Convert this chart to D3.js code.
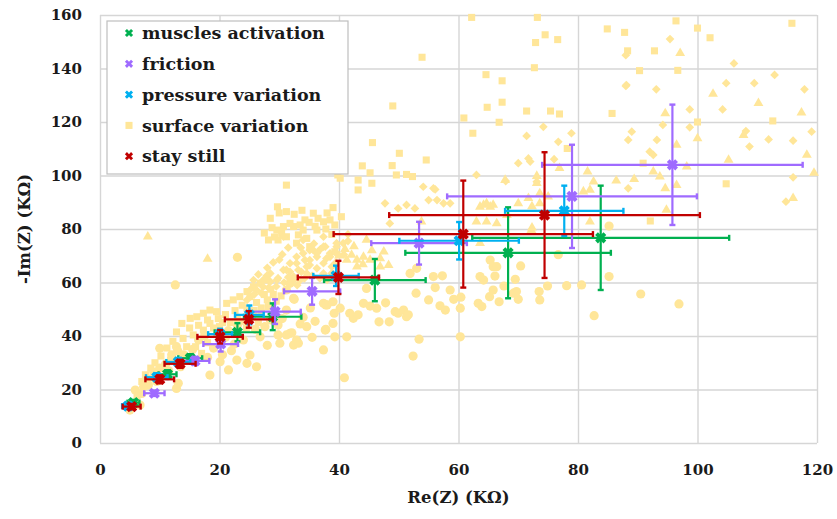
<!DOCTYPE html>
<html>
<head>
<meta charset="utf-8">
<script src="https://cdn.jsdelivr.net/npm/d3@7"></script>
<style>
body { margin: 0; background: #fff; }
text { font-family: "DejaVu Serif", serif; font-weight: bold; fill: #1a1a1a; }
</style>
</head>
<body>
<svg width="837" height="519"></svg>
<script>
// x ticks / y ticks
var xTicks = [0, 20, 40, 60, 80, 100, 120];
var yTicks = [0, 20, 40, 60, 80, 100, 120, 140, 160];

// muscles activation
var musclesRe    = [5.6, 11.3, 15.1, 23.0, 28.9, 46.0, 68.3, 83.8];
var musclesIm    = [15.1, 25.7, 31.7, 41.4, 47.2, 60.9, 71.1, 76.7];
var musclesReErr = [1.0, 1.5, 2.0, 3.8, 4.8, 8.5, 17.2, 21.5];
var musclesImErr = [1.0, 1.5, 1.5, 3.4, 5.0, 7.9, 17.0, 19.5];

// friction
var frictionRe    = [9.1, 15.9, 20.2, 29.3, 35.5, 53.4, 79.0, 95.8];
var frictionIm    = [18.6, 30.7, 37.0, 49.1, 56.7, 74.7, 92.2, 104.0];
var frictionReErr = [1.7, 2.4, 2.9, 4.3, 4.7, 8.0, 20.9, 21.8];
var frictionImErr = [1.0, 1.5, 2.8, 4.6, 5.0, 8.0, 19.3, 22.5];

// pressure variation
var pressureRe    = [4.7, 9.5, 13.1, 20.1, 25.0, 39.5, 60.1, 77.7];
var pressureIm    = [13.8, 24.6, 30.3, 40.7, 47.9, 62.5, 75.6, 86.8];
var pressureReErr = [1.0, 1.8, 2.0, 2.0, 2.4, 3.8, 10.0, 9.9];
var pressureImErr = [1.0, 1.5, 1.5, 2.0, 3.5, 3.8, 7.0, 9.4];

// stay still
var stillRe    = [5.3, 10.0, 13.4, 20.1, 24.9, 39.9, 60.8, 74.4];
var stillIm    = [13.6, 23.8, 29.6, 39.7, 46.2, 61.9, 78.1, 85.2];
var stillReErr = [1.5, 2.4, 2.6, 3.8, 4.0, 6.8, 21.7, 26.0];
var stillImErr = [1.0, 1.5, 1.5, 2.5, 3.1, 6.2, 20.0, 23.5];

// surface variation, one list per marker shape
var surfaceCircles = [
  [5.0,12.3],[5.9,19.8],[6.7,14.2],[7.3,21.0],[8.1,21.7],[10.0,35.4],[12.6,59.1],[12.8,20.4],[13.1,22.3],[12.8,36.0],
  [18.4,25.4],[20.1,30.4],[21.5,27.3],[22.9,31.0],[24.6,29.8],[26.2,28.5],[25.1,32.9],[23.0,69.4],[26.8,39.7],[27.6,43.5],
  [29.8,44.1],[29.8,40.4],[30.1,37.3],[31.2,40.4],[31.8,41.0],[32.1,41.2],[32.4,36.6],[33.2,37.3],[32.9,38.5],[34.6,43.5],
  [32.5,53.7],[32.4,54.1],[31.2,57.2],[31.8,59.7],[31.2,49.7],[37.4,52.2],[37.8,51.6],[39.2,48.5],[37.7,42.2],[39.0,44.7],
  [39.3,39.7],[41.3,39.7],[37.4,34.8],[37.8,42.5],[38.0,51.6],[39.0,52.8],[40.2,50.4],[41.8,48.5],[42.4,46.6],[43.2,47.9],
  [44.1,52.2],[44.6,57.8],[45.2,51.2],[46.3,50.4],[47.8,52.4],[46.7,45.3],[48.4,45.3],[49.4,49.1],[49.9,48.5],[50.8,49.7],
  [51.3,47.2],[51.6,47.9],[51.9,63.4],[52.9,56.0],[53.0,65.3],[55.0,53.5],[55.8,62.2],[56.1,58.1],[56.9,51.3],[57.3,62.5],
  [57.8,49.7],[58.6,57.2],[59.2,53.7],[60.3,50.4],[60.4,54.5],[60.3,39.7],[53.4,38.8],[52.4,32.5],[40.9,24.4],[63.3,52.2],
  [63.9,51.0],[64.2,60.9],[63.6,62.2],[65.3,68.4],[65.8,65.9],[65.2,54.7],[65.8,57.2],[66.1,62.4],[66.4,65.9],[66.8,52.8],
  [67.6,58.7],[69.5,61.2],[69.2,56.0],[69.7,56.6],[70.0,53.7],[70.4,66.2],[73.5,56.6],[73.6,53.5],[74.9,58.7],[76.7,70.4],
  [78.1,58.8],[80.6,59.1],[82.7,47.6],[85.2,62.2],[85.2,81.1],[90.5,55.7],[96.9,52.0],[20.5,33.0],[22.0,34.5],[28.0,36.5],
  [35.5,39.5],[36.0,45.5],[34.0,47.0],[35.2,50.5],[33.5,44.5],[30.5,46.5],[28.5,46.0],
  [8.0,24.0],[9.0,26.5],[10.0,28.0],[11.0,29.5],[12.0,33.0],[13.0,34.5],[14.0,33.0],[15.5,35.0],[16.5,38.5],[17.5,40.0],
  [21.5,42.0],[23.0,44.0],[24.0,38.5],[22.5,37.0],[26.0,42.5],[18.0,32.0],[15.0,31.5],[13.5,28.5],[11.5,27.0],[9.5,23.0],
  [7.0,18.5],[19.0,35.5],[21.0,39.5]
];
var surfaceSquares = [
  [62.2,159.1],[73.2,159.1],[74.5,152.6],[72.9,149.7],[76.6,150.8],[72.7,140.3],[64.6,137.7],[67.3,135.4],[53.9,144.2],[49.0,126.0],
  [64.8,125.5],[67.3,127.4],[71.4,124.1],[75.4,124.1],[76.9,123.0],[60.9,121.5],[66.8,119.9],[62.4,115.8],[45.6,112.3],[50.1,108.3],
  [54.6,105.8],[48.9,103.7],[43.9,103.6],[45.2,101.0],[49.6,100.2],[51.3,100.4],[52.3,99.6],[43.2,98.3],[43.2,94.6],[45.5,97.1],
  [39.8,100.2],[84.9,154.8],[87.8,153.5],[88.3,146.6],[90.3,139.2],[85.7,123.2],[78.2,110.1],[96.4,157.8],[100.0,155.1],[102.1,151.5],
  [115.8,156.9],[92.8,146.6],[96.7,139.3],[100.0,120.0],[112.6,120.4],[90.9,104.6],[104.8,96.9],[92.1,83.0],
  [31.2,96.4],[29.7,88.3],[40.2,99.0],[40.4,84.6],[35.7,85.9],[34.3,83.4],[37.4,82.7],[38.5,83.4],[39.3,81.5],[36.3,79.6],
  [32.4,80.9],[30.7,80.9],[33.2,77.8],[31.2,77.1],[34.6,76.5],[30.4,78.4],[28.2,75.9],[32.9,74.7],[35.1,73.4],[29.8,75.9],
  [29.6,79.6],[31.8,82.1],[31.2,86.5],[34.0,79.6],[39.3,71.5],[36.0,81.0],[37.8,80.0],[33.5,81.5],[28.8,80.5],[38.8,78.0],
  [28.5,84.0],[30.0,86.0],[32.5,85.5],[33.8,87.0],[35.0,82.5],[36.5,84.0],[38.0,86.0],[39.0,88.0],[27.5,78.5],[29.2,77.0],
  [13.7,44.7],[15.1,46.6],[16.2,47.2],[17.3,48.5],[18.4,49.7],[19.5,49.1],[21.2,52.2],[22.3,53.5],[23.4,54.7],[24.6,56.6],
  [25.7,58.4],[25.1,54.7],[26.8,59.7],[27.9,60.9],[24.6,50.4],[18.4,44.7],[17.3,42.2],[15.6,40.4],[13.9,39.1],[14.5,36.0],
  [16.5,44.0],[18.0,46.0],[19.8,46.5],[21.0,48.0],[22.6,49.5],[23.8,51.5],[26.2,52.5],[27.5,55.5],[28.6,57.5],[20.0,43.5],
  [21.8,45.0],[23.0,46.5],[12.2,38.0],[11.2,35.5],[12.8,41.5],[15.0,43.0],[10.2,32.5],[9.2,30.0],[8.5,28.0],[7.6,25.5],
  [7.0,23.0],[6.2,17.5],[25.8,49.5],[27.0,48.5],[28.2,51.0],[29.5,53.0],[30.3,55.0],[20.5,38.5],[22.5,40.5],[24.5,43.0],
  [26.5,45.0],[16.0,36.0],[18.0,37.5],[19.5,41.0],[17.0,33.5],[11.8,31.0],[19.0,43.0],[20.5,45.0],[24.0,45.5],[25.5,47.0],
  [27.0,50.5],[28.0,53.5],[29.0,55.5]
];
var surfaceDiamonds = [
  [32.9,67.2],[34.0,70.9],[35.1,72.1],[36.3,69.6],[37.4,67.2],[38.5,70.9],[31.2,64.7],[29.8,61.6],[28.5,60.3],[27.3,58.4],
  [25.1,57.2],[25.7,60.9],[32.4,60.9],[33.7,64.0],[35.1,66.5],[36.3,65.3],[37.4,63.4],[38.8,65.9],[39.6,73.4],[40.7,74.7],
  [30.7,77.1],[34.0,75.9],[47.7,89.6],[48.5,82.1],[49.9,87.7],[51.3,89.0],[52.7,87.7],[54.1,95.8],[55.0,90.8],[55.8,95.2],
  [56.4,90.8],[57.5,89.6],[58.6,89.6],[63.0,100.2],[70.0,104.6],[71.7,106.4],[35.7,72.1],[37.4,77.1],[37.7,73.4],[34.6,65.9],
  [34.3,68.4],[33.2,64.7],[31.8,64.0],[33.5,60.9],[71.4,114.8],[72.0,105.2],[74.2,118.2],[76.7,112.6],[78.9,115.8],[76.0,106.1],
  [56.1,94.8],[88.1,133.8],[89.0,116.4],[88.4,113.3],[88.4,95.2],[73.1,97.7],[67.9,97.9],[93.2,113.3],[94.2,118.9],[98.7,124.7],
  [98.7,118.0],[104.2,124.7],[108.7,110.8],[111.9,113.5],[116.0,113.0],[116.0,99.3],[114.8,90.2],[119.1,116.4],[92.0,108.9],[92.6,107.7],
  [95.4,151.0],[88.0,145.0],[106.1,141.9],[104.8,134.5],[109.5,134.5],[112.9,137.6],[117.9,132.2],[88.0,133.5],[93.1,132.2],[108.1,116.6],
  [26.2,57.2],[27.3,60.9],[28.5,63.4],[29.6,60.9],[30.7,64.7],[31.8,67.2],[32.9,69.6],[35.1,68.4],[36.3,70.9],[37.4,73.4],
  [38.5,69.6],[39.6,74.7],[32.4,62.2],[34.6,63.4],[30.5,70.5],[31.5,73.0],[29.0,67.5],[41.5,78.0],
  [24.6,53.5],[25.8,55.5],[27.0,56.0],[28.2,58.0],[29.5,58.5],[30.8,60.0],[31.5,62.0],[33.0,59.0],[34.2,61.5],[35.5,62.5],
  [36.8,61.5],[38.0,61.0],[38.8,63.5],[39.5,67.5],[37.9,69.0],[36.9,72.5],[35.8,74.5],[33.6,73.0],[30.0,68.5],[28.0,65.5],
  [26.5,63.0],[27.9,62.5],[39.5,71.0],[40.8,70.5],[41.5,75.5]
];
var surfaceTriangles = [
  [8.0,77.1],[18.0,68.8],[41.3,68.4],[42.1,70.3],[43.0,68.4],[44.1,69.6],[45.2,68.4],[46.9,69.0],[46.9,65.9],[43.0,65.9],
  [44.6,75.9],[53.8,82.7],[63.0,82.7],[63.6,88.3],[64.7,89.6],[65.8,89.0],[64.7,82.7],[66.4,82.1],[67.8,98.3],[70.0,89.6],
  [71.7,91.5],[72.2,79.6],[73.1,97.1],[73.6,89.6],[63.6,74.7],[73.6,93.3],[102.6,130.5],[94.6,123.2],[100.0,113.9],[96.5,111.4],
  [105.2,105.8],[98.2,103.3],[92.6,101.4],[93.7,99.6],[96.5,96.4],[94.6,95.2],[94.8,87.1],[89.4,98.6],[86.4,98.1],[81.6,101.4],
  [82.6,97.7],[82.0,94.6],[80.9,94.0],[76.9,102.7],[73.1,99.8],[72.3,88.4],[82.0,82.7],[72.3,80.5],[75.0,92.1],[65.3,88.3],
  [64.2,89.0],[68.1,85.2],[110.2,127.0],[117.4,123.5],[118.3,107.7],[116.0,91.5],[119.5,101.0],[97.1,145.7],[107.7,115.1],
  [41.0,72.5],[42.5,73.5],[45.5,72.0],[47.5,71.5],[40.0,70.0],[48.3,66.5],[44.0,66.8]
];

var svg = d3.select("svg"),
    margin = {top: 15, right: 20, bottom: 76, left: 100},
    width = +svg.attr("width") - margin.left - margin.right,
    height = +svg.attr("height") - margin.top - margin.bottom,
    g = svg.append("g").attr("transform", "translate(" + margin.left + "," + margin.top + ")");

var x = d3.scaleLinear().domain([0, 120]).range([0, width]);
var y = d3.scaleLinear().domain([0, 160]).range([height, 0]);

var gridColor = "#d6d6d6";

// axes with gridlines
var xAxis = g.append("g")
    .attr("transform", "translate(0," + height + ")")
    .call(d3.axisBottom(x).tickValues(xTicks).tickSize(-height).tickPadding(21));
var yAxis = g.append("g")
    .call(d3.axisLeft(y).tickValues(yTicks).tickSize(-width).tickPadding(18));

[xAxis, yAxis].forEach(function(a) {
  a.select(".domain").remove();
  a.selectAll(".tick line").attr("stroke", gridColor).attr("stroke-width", 1.4);
  a.selectAll(".tick text")
      .style("font-family", "DejaVu Serif")
      .style("font-weight", "bold")
      .style("font-size", "15px")
      .attr("fill", "#1a1a1a");
});

// surface variation scatter
var yellow = "#ffe699";
var scat = g.append("g");
scat.selectAll("circle.sc").data(surfaceCircles).enter().append("circle")
    .attr("cx", function(d) { return x(d[0]); })
    .attr("cy", function(d) { return y(d[1]); })
    .attr("r", 4.6)
    .attr("fill", yellow);
scat.selectAll("path.sq").data(surfaceSquares).enter().append("path")
    .attr("d", d3.symbol().type(d3.symbolSquare).size(50))
    .attr("transform", function(d) { return "translate(" + x(d[0]) + "," + y(d[1]) + ")"; })
    .attr("fill", yellow);
scat.selectAll("path.di").data(surfaceDiamonds).enter().append("path")
    .attr("d", d3.symbol().type(d3.symbolSquare).size(38))
    .attr("transform", function(d) { return "translate(" + x(d[0]) + "," + y(d[1]) + ") rotate(45)"; })
    .attr("fill", yellow);
scat.selectAll("path.tr").data(surfaceTriangles).enter().append("path")
    .attr("d", d3.symbol().type(d3.symbolTriangle).size(42))
    .attr("transform", function(d) { return "translate(" + x(d[0]) + "," + y(d[1]) + ")"; })
    .attr("fill", yellow);

var cross = d3.symbol().type(d3.symbolCross).size(78);

function plot(re, im, reErr, imErr, color) {
  var s = g.append("g");
  var cap = 3;
  re.forEach(function(v, i) {
    var cx = x(v), cy = y(im[i]);
    var x0 = x(v - reErr[i]), x1 = x(v + reErr[i]);
    var y0 = y(im[i] - imErr[i]), y1 = y(im[i] + imErr[i]);
    s.append("line").attr("x1", x0).attr("x2", x1).attr("y1", cy).attr("y2", cy)
        .attr("stroke", color).attr("stroke-width", 2.2);
    s.append("line").attr("x1", cx).attr("x2", cx).attr("y1", y0).attr("y2", y1)
        .attr("stroke", color).attr("stroke-width", 2.2);
    [x0, x1].forEach(function(px) {
      s.append("line").attr("x1", px).attr("x2", px).attr("y1", cy - cap).attr("y2", cy + cap)
          .attr("stroke", color).attr("stroke-width", 2.4);
    });
    [y0, y1].forEach(function(py) {
      s.append("line").attr("x1", cx - cap).attr("x2", cx + cap).attr("y1", py).attr("y2", py)
          .attr("stroke", color).attr("stroke-width", 2.4);
    });
    s.append("path").attr("d", cross)
        .attr("transform", "translate(" + cx + "," + cy + ") rotate(45)")
        .attr("fill", color);
  });
}

var green = "#00b050", purple = "#9f6bff", cyan = "#00b0f0", red = "#c00000";
plot(musclesRe, musclesIm, musclesReErr, musclesImErr, green);
plot(frictionRe, frictionIm, frictionReErr, frictionImErr, purple);
plot(pressureRe, pressureIm, pressureReErr, pressureImErr, cyan);
plot(stillRe, stillIm, stillReErr, stillImErr, red);

// axis titles
svg.append("text")
    .attr("x", margin.left + width / 2).attr("y", 503)
    .attr("text-anchor", "middle")
    .style("font-size", "16.5px")
    .text("Re(Z) (KΩ)");
svg.append("text")
    .attr("transform", "translate(30," + (margin.top + height / 2) + ") rotate(-90)")
    .attr("text-anchor", "middle")
    .style("font-size", "16.5px")
    .text("-Im(Z) (KΩ)");

// legend
var legendItems = [
  {name: "muscles activation", color: green, shape: "x"},
  {name: "friction", color: purple, shape: "x"},
  {name: "pressure variation", color: cyan, shape: "x"},
  {name: "surface variation", color: yellow, shape: "sq"},
  {name: "stay still", color: red, shape: "x"}
];
var legend = svg.append("g").attr("transform", "translate(107,21)");
legend.append("rect")
    .attr("width", 241).attr("height", 153)
    .attr("fill", "#fff").attr("stroke", "#bfbfbf").attr("stroke-width", 1.2);
var li = legend.selectAll("g.item").data(legendItems).enter().append("g")
    .attr("transform", function(d, i) { return "translate(0," + (12 + i * 30.8) + ")"; });
li.append("path")
    .attr("d", function(d) {
      return d.shape === "x" ? d3.symbol().type(d3.symbolCross).size(42)() : d3.symbol().type(d3.symbolSquare).size(50)();
    })
    .attr("transform", function(d) { return "translate(22,0)" + (d.shape === "x" ? " rotate(45)" : ""); })
    .attr("fill", function(d) { return d.color; });
li.append("text")
    .attr("x", 35).attr("dy", "0.35em")
    .style("font-size", "17.5px")
    .text(function(d) { return d.name; });
</script>
</body>
</html>
